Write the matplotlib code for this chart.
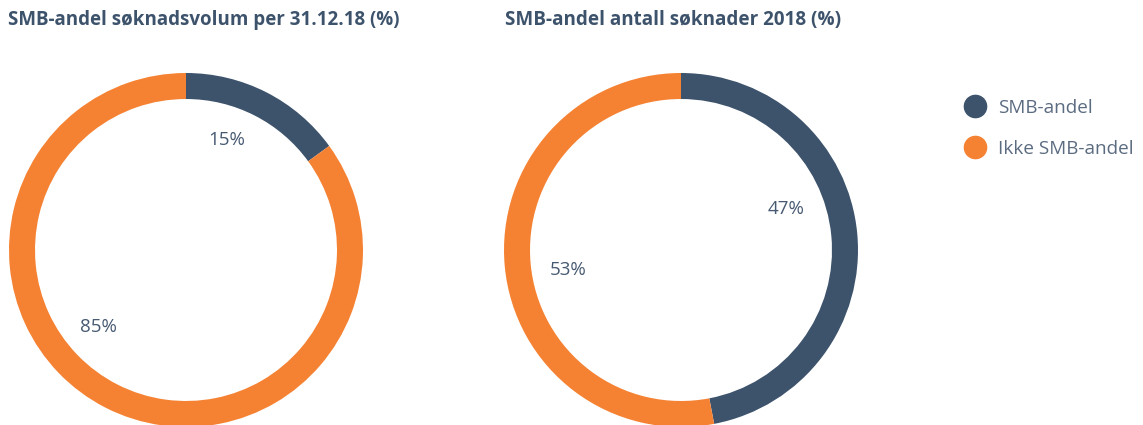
import matplotlib.pyplot as plt
from matplotlib.lines import Line2D

# data
titles = ['SMB-andel søknadsvolum per 31.12.18 (%)', 'SMB-andel antall søknader 2018 (%)']
series_names = ['SMB-andel', 'Ikke SMB-andel']
shares = [[15, 85], [47, 53]]

colors = ['#3d536c', '#f58233']
text_col = '#475a72'
W, H = 1143, 425

# label spots inside each ring (data units, ring radius = 1)
label_pos = [[(0.232, 0.621), (-0.492, -0.435)],
             [(0.593, 0.232), (-0.638, -0.113)]]

fig = plt.figure(figsize=(W / 100, H / 100), dpi=100)
plt.rcParams['font.family'] = ['Open Sans', 'DejaVu Sans']

centers = [(186, 250), (681, 250)]
R = 177
for i, (cx, cy) in enumerate(centers):
    ax = fig.add_axes([(cx - R) / W, (H - cy - R) / H, 2 * R / W, 2 * R / H])
    ax.pie(shares[i], colors=colors, startangle=90, counterclock=False,
           radius=1, wedgeprops=dict(width=0.147, linewidth=0))
    ax.set_xlim(-1, 1)
    ax.set_ylim(-1, 1)
    ax.set_aspect('equal')
    ax.axis('off')
    for v, (lx, ly) in zip(shares[i], label_pos[i]):
        ax.text(lx, ly, f'{v}%', ha='center', va='center', fontsize=13.5, color=text_col)

fig.text(8 / W, 1 - 20 / H, titles[0], ha='left', va='center', fontsize=13.5,
         fontweight='bold', color='#3d536c')
fig.text(505 / W, 1 - 20 / H, titles[1], ha='left', va='center', fontsize=13.6,
         fontweight='bold', color='#3d536c')

handles = [Line2D([], [], marker='o', linestyle='none', markersize=16,
                  markerfacecolor=c, markeredgecolor=c) for c in colors]
fig.legend(handles, series_names, loc='upper left', bbox_to_anchor=(956 / W, 1 - 99 / H),
           frameon=False, fontsize=13.6, labelcolor='#5b6b80', handletextpad=0.25,
           labelspacing=1.2, borderaxespad=0, borderpad=0)

fig.savefig('out.png', dpi=100)
